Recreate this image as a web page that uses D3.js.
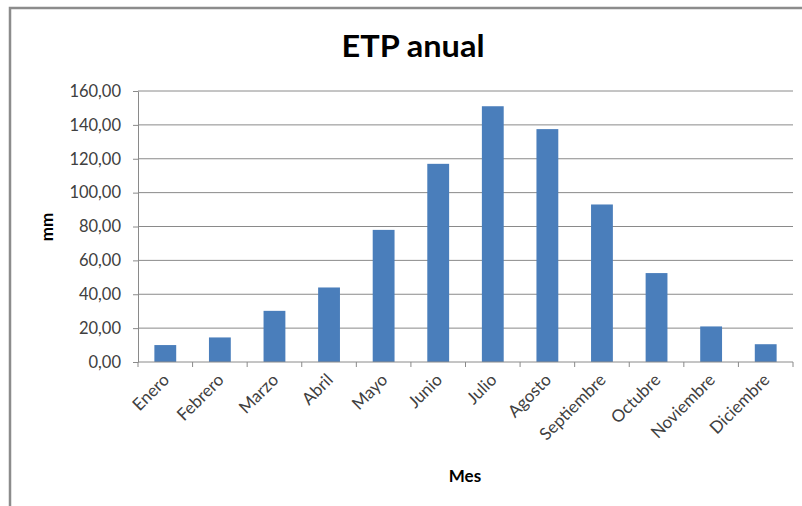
<!DOCTYPE html>
<html>
<head>
<meta charset="utf-8">
<script src="https://cdn.jsdelivr.net/npm/d3@7"></script>
<style>
  html, body { margin: 0; padding: 0; background: #fff; }
  svg { display: block; }
</style>
</head>
<body>
<svg id="chart" width="802" height="506"></svg>
<script>
// Monthly potential evapotranspiration (mm)
const meses = ["Enero", "Febrero", "Marzo", "Abril", "Mayo", "Junio",
               "Julio", "Agosto", "Septiembre", "Octubre", "Noviembre", "Diciembre"];
const etp = [10.0, 14.5, 30.2, 44.0, 78.0, 117.0, 151.0, 137.5, 93.0, 52.5, 21.0, 10.5];
const yTicks = [0, 20, 40, 60, 80, 100, 120, 140, 160];

const W = 802, H = 506;
const margin = { left: 138, right: 9, top: 91, bottom: 144 };
const font = "Lato, 'Liberation Sans', sans-serif";

const svg = d3.select("#chart");

// chart frame
svg.append("path")
  .attr("d", `M10,${H} V8 H${W}`)
  .attr("fill", "none")
  .attr("stroke", "#8c8c8c")
  .attr("stroke-width", 2.5);

const x = d3.scaleBand()
  .domain(meses)
  .range([margin.left, W - margin.right])
  .paddingInner(0.6)
  .paddingOuter(0.3);

const y = d3.scaleLinear()
  .domain([0, 160])
  .range([H - margin.bottom, margin.top]);

// horizontal gridlines
svg.append("g")
  .selectAll("line")
  .data(yTicks.slice(1))
  .join("line")
  .attr("x1", margin.left)
  .attr("x2", W - margin.right)
  .attr("y1", d => y(d))
  .attr("y2", d => y(d))
  .attr("stroke", "#8a8a8a")
  .attr("stroke-width", 1);

// bars
svg.append("g")
  .selectAll("rect")
  .data(etp)
  .join("rect")
  .attr("x", (d, i) => x(meses[i]))
  .attr("width", x.bandwidth())
  .attr("y", d => y(d))
  .attr("height", d => y(0) - y(d))
  .attr("fill", "#4a7ebb");

// y axis
const yAxis = svg.append("g")
  .attr("transform", `translate(${margin.left},0)`)
  .call(d3.axisLeft(y)
    .tickValues(yTicks)
    .tickSize(5)
    .tickSizeOuter(0)
    .tickFormat(d => d3.format(".2f")(d).replace(".", ",")));
yAxis.select(".domain").attr("stroke", "#8a8a8a");
yAxis.selectAll(".tick line").attr("stroke", "#8a8a8a");
yAxis.selectAll(".tick text")
  .attr("x", -17)
  .attr("fill", "#404040")
  .style("font-family", font)
  .style("font-size", "16.5px");

// x axis with ticks at category boundaries
const step = x.step();
const xAxisG = svg.append("g")
  .attr("transform", `translate(0,${y(0)})`);
xAxisG.append("line")
  .attr("x1", margin.left)
  .attr("x2", W - margin.right)
  .attr("stroke", "#8a8a8a");
xAxisG.selectAll("line.tk")
  .data(d3.range(meses.length + 1))
  .join("line")
  .attr("class", "tk")
  .attr("x1", i => margin.left + i * step)
  .attr("x2", i => margin.left + i * step)
  .attr("y1", 0)
  .attr("y2", 5)
  .attr("stroke", "#8a8a8a");
xAxisG.selectAll("text")
  .data(meses)
  .join("text")
  .attr("transform", d => `translate(${x(d) + x.bandwidth() / 2 + 5},19) rotate(-45)`)
  .attr("text-anchor", "end")
  .attr("fill", "#404040")
  .style("font-family", font)
  .style("font-size", "17px")
  .text(d => d);

// titles
svg.append("text")
  .attr("x", 413)
  .attr("y", 57)
  .attr("text-anchor", "middle")
  .attr("textLength", 143)
  .attr("lengthAdjust", "spacingAndGlyphs")
  .attr("fill", "#000")
  .style("font-family", font)
  .style("font-weight", "bold")
  .style("font-size", "30px")
  .text("ETP anual");

svg.append("text")
  .attr("transform", "translate(53,227) rotate(-90)")
  .attr("text-anchor", "middle")
  .attr("fill", "#000")
  .style("font-family", font)
  .style("font-weight", "bold")
  .style("font-size", "17px")
  .text("mm");

svg.append("text")
  .attr("x", 465)
  .attr("y", 482)
  .attr("text-anchor", "middle")
  .attr("fill", "#000")
  .style("font-family", font)
  .style("font-weight", "bold")
  .style("font-size", "17px")
  .text("Mes");
</script>
</body>
</html>
